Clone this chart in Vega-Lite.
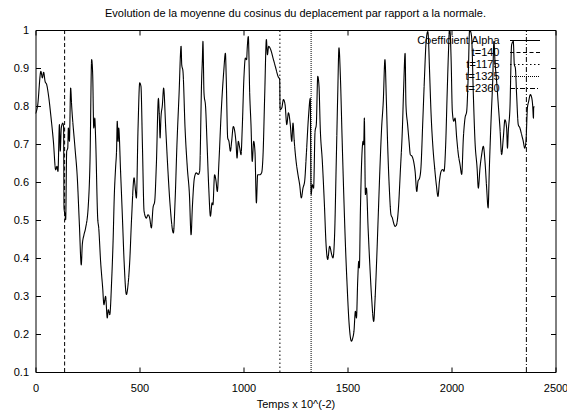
{
  "$schema": "https://vega.github.io/schema/vega-lite/v6.json",
  "width": 520,
  "height": 342,
  "autosize": {"type": "none"},
  "padding": {"left": 35.5, "top": 30, "right": 11.5, "bottom": 38},
  "background": "white",
  "title": {"text": "Evolution de la moyenne du cosinus du deplacement par rapport a la normale.", "fontSize": 11, "fontWeight": "normal", "font": "Liberation Sans", "color": "#000", "offset": 5, "anchor": "middle"},
  "config": {
    "view": {"stroke": "#000", "strokeWidth": 1},
    "axis": {"grid": false, "domain": false, "tickColor": "#000", "labelColor": "#000", "labelFont": "Liberation Sans", "labelFontSize": 11, "titleFont": "Liberation Sans", "titleFontSize": 11, "titleFontWeight": "normal", "titleColor": "#000", "tickSize": -5, "labelFlush": false, "labelOverlap": false},
    "legend": {"orient": "none", "legendX": 484, "legendY": 5, "padding": 0, "symbolType": "M-3,0H3", "symbolSize": 100, "symbolStrokeWidth": 1, "labelAlign": "right", "labelOffset": -31, "labelFont": "Liberation Sans", "labelFontSize": 11, "labelColor": "#000", "rowPadding": 0, "labelLimit": 300}
  },
  "datasets": {
    "alpha": [
      {"t":0,"v":0.78},{"t":10,"v":0.80},{"t":26,"v":0.891},{"t":33,"v":0.874},{"t":39,"v":0.889},{"t":46,"v":0.865},{"t":54,"v":0.856},{"t":62,"v":0.83},{"t":75,"v":0.768},{"t":86,"v":0.707},{"t":97,"v":0.632},{"t":103,"v":0.641},{"t":108,"v":0.628},{"t":115,"v":0.751},{"t":119,"v":0.681},{"t":124,"v":0.742},{"t":131,"v":0.755},{"t":135,"v":0.746},{"t":137,"v":0.532},{"t":142,"v":0.514},{"t":145,"v":0.501},{"t":150,"v":0.681},{"t":155,"v":0.689},{"t":158,"v":0.742},{"t":163,"v":0.707},{"t":169,"v":0.847},{"t":174,"v":0.799},{"t":190,"v":0.689},{"t":201,"v":0.611},{"t":211,"v":0.488},{"t":220,"v":0.382},{"t":225,"v":0.435},{"t":233,"v":0.461},{"t":241,"v":0.479},{"t":254,"v":0.54},{"t":262,"v":0.654},{"t":270,"v":0.922},{"t":275,"v":0.882},{"t":280,"v":0.742},{"t":285,"v":0.768},{"t":289,"v":0.716},{"t":299,"v":0.505},{"t":304,"v":0.479},{"t":313,"v":0.391},{"t":323,"v":0.321},{"t":329,"v":0.277},{"t":337,"v":0.299},{"t":345,"v":0.242},{"t":350,"v":0.264},{"t":357,"v":0.251},{"t":366,"v":0.339},{"t":373,"v":0.444},{"t":379,"v":0.567},{"t":385,"v":0.637},{"t":390,"v":0.689},{"t":393,"v":0.76},{"t":397,"v":0.707},{"t":400,"v":0.742},{"t":409,"v":0.628},{"t":418,"v":0.505},{"t":426,"v":0.391},{"t":437,"v":0.304},{"t":445,"v":0.33},{"t":453,"v":0.391},{"t":462,"v":0.505},{"t":474,"v":0.611},{"t":478,"v":0.593},{"t":485,"v":0.558},{"t":493,"v":0.742},{"t":501,"v":0.861},{"t":507,"v":0.852},{"t":514,"v":0.698},{"t":522,"v":0.523},{"t":533,"v":0.505},{"t":541,"v":0.514},{"t":549,"v":0.505},{"t":557,"v":0.479},{"t":565,"v":0.532},{"t":573,"v":0.549},{"t":581,"v":0.645},{"t":591,"v":0.82},{"t":595,"v":0.777},{"t":599,"v":0.716},{"t":603,"v":0.768},{"t":610,"v":0.803},{"t":616,"v":0.847},{"t":626,"v":0.742},{"t":636,"v":0.637},{"t":647,"v":0.54},{"t":663,"v":0.466},{"t":671,"v":0.549},{"t":680,"v":0.698},{"t":690,"v":0.829},{"t":700,"v":0.957},{"t":703,"v":0.909},{"t":709,"v":0.891},{"t":719,"v":0.742},{"t":730,"v":0.637},{"t":740,"v":0.567},{"t":748,"v":0.461},{"t":754,"v":0.532},{"t":764,"v":0.611},{"t":773,"v":0.624},{"t":783,"v":0.62},{"t":789,"v":0.628},{"t":799,"v":0.874},{"t":802,"v":0.918},{"t":805,"v":0.97},{"t":810,"v":0.835},{"t":818,"v":0.795},{"t":825,"v":0.698},{"t":833,"v":0.584},{"t":841,"v":0.51},{"t":849,"v":0.545},{"t":853,"v":0.54},{"t":861,"v":0.619},{"t":868,"v":0.602},{"t":874,"v":0.575},{"t":882,"v":0.654},{"t":893,"v":0.786},{"t":905,"v":0.891},{"t":913,"v":0.939},{"t":917,"v":0.874},{"t":924,"v":0.716},{"t":930,"v":0.707},{"t":937,"v":0.681},{"t":943,"v":0.707},{"t":951,"v":0.746},{"t":958,"v":0.733},{"t":964,"v":0.703},{"t":969,"v":0.663},{"t":975,"v":0.707},{"t":982,"v":0.689},{"t":988,"v":0.672},{"t":994,"v":0.742},{"t":1002,"v":0.874},{"t":1009,"v":0.926},{"t":1015,"v":0.922},{"t":1018,"v":0.953},{"t":1023,"v":0.983},{"t":1030,"v":0.83},{"t":1036,"v":0.751},{"t":1042,"v":0.654},{"t":1049,"v":0.707},{"t":1055,"v":0.681},{"t":1062,"v":0.545},{"t":1068,"v":0.619},{"t":1078,"v":0.619},{"t":1087,"v":0.624},{"t":1094,"v":0.672},{"t":1102,"v":0.83},{"t":1110,"v":0.975},{"t":1115,"v":0.935},{"t":1121,"v":0.957},{"t":1131,"v":0.948},{"t":1142,"v":0.926},{"t":1155,"v":0.9},{"t":1166,"v":0.878},{"t":1174,"v":0.87},{"t":1176,"v":0.79},{"t":1184,"v":0.795},{"t":1192,"v":0.817},{"t":1200,"v":0.803},{"t":1208,"v":0.751},{"t":1216,"v":0.782},{"t":1225,"v":0.751},{"t":1232,"v":0.707},{"t":1238,"v":0.755},{"t":1244,"v":0.707},{"t":1253,"v":0.654},{"t":1262,"v":0.619},{"t":1270,"v":0.593},{"t":1278,"v":0.558},{"t":1286,"v":0.584},{"t":1294,"v":0.602},{"t":1302,"v":0.672},{"t":1312,"v":0.768},{"t":1321,"v":0.82},{"t":1325,"v":0.567},{"t":1331,"v":0.593},{"t":1337,"v":0.584},{"t":1344,"v":0.733},{"t":1350,"v":0.751},{"t":1357,"v":0.878},{"t":1363,"v":0.852},{"t":1369,"v":0.742},{"t":1379,"v":0.654},{"t":1389,"v":0.54},{"t":1397,"v":0.435},{"t":1405,"v":0.396},{"t":1414,"v":0.431},{"t":1424,"v":0.409},{"t":1430,"v":0.4},{"t":1438,"v":0.461},{"t":1446,"v":0.654},{"t":1453,"v":0.83},{"t":1459,"v":0.953},{"t":1466,"v":0.874},{"t":1474,"v":0.716},{"t":1482,"v":0.567},{"t":1490,"v":0.435},{"t":1498,"v":0.33},{"t":1507,"v":0.233},{"t":1519,"v":0.181},{"t":1525,"v":0.189},{"t":1531,"v":0.207},{"t":1538,"v":0.26},{"t":1543,"v":0.242},{"t":1549,"v":0.339},{"t":1554,"v":0.391},{"t":1557,"v":0.374},{"t":1562,"v":0.523},{"t":1568,"v":0.654},{"t":1575,"v":0.707},{"t":1578,"v":0.698},{"t":1581,"v":0.768},{"t":1586,"v":0.567},{"t":1591,"v":0.584},{"t":1599,"v":0.479},{"t":1608,"v":0.374},{"t":1616,"v":0.295},{"t":1626,"v":0.233},{"t":1632,"v":0.286},{"t":1640,"v":0.391},{"t":1648,"v":0.514},{"t":1656,"v":0.637},{"t":1664,"v":0.742},{"t":1672,"v":0.812},{"t":1680,"v":0.922},{"t":1687,"v":0.812},{"t":1693,"v":0.698},{"t":1701,"v":0.584},{"t":1709,"v":0.514},{"t":1716,"v":0.505},{"t":1720,"v":0.496},{"t":1729,"v":0.483},{"t":1736,"v":0.488},{"t":1745,"v":0.532},{"t":1754,"v":0.628},{"t":1764,"v":0.742},{"t":1770,"v":0.847},{"t":1777,"v":0.939},{"t":1781,"v":0.803},{"t":1789,"v":0.751},{"t":1796,"v":0.707},{"t":1802,"v":0.672},{"t":1810,"v":0.668},{"t":1818,"v":0.654},{"t":1825,"v":0.628},{"t":1833,"v":0.575},{"t":1839,"v":0.602},{"t":1847,"v":0.611},{"t":1853,"v":0.637},{"t":1862,"v":0.76},{"t":1870,"v":0.874},{"t":1878,"v":0.97},{"t":1886,"v":0.996},{"t":1889,"v":0.979},{"t":1894,"v":0.9},{"t":1902,"v":0.777},{"t":1911,"v":0.689},{"t":1919,"v":0.637},{"t":1927,"v":0.593},{"t":1935,"v":0.562},{"t":1942,"v":0.602},{"t":1950,"v":0.628},{"t":1958,"v":0.633},{"t":1964,"v":0.628},{"t":1972,"v":0.698},{"t":1979,"v":0.83},{"t":1985,"v":0.935},{"t":1990,"v":1.0},{"t":1993,"v":0.996},{"t":1998,"v":0.926},{"t":2004,"v":0.786},{"t":2011,"v":0.76},{"t":2017,"v":0.768},{"t":2025,"v":0.716},{"t":2033,"v":0.672},{"t":2041,"v":0.646},{"t":2049,"v":0.62},{"t":2057,"v":0.716},{"t":2065,"v":0.768},{"t":2073,"v":0.786},{"t":2081,"v":0.891},{"t":2087,"v":1.0},{"t":2092,"v":0.996},{"t":2097,"v":0.979},{"t":2105,"v":0.83},{"t":2113,"v":0.707},{"t":2123,"v":0.637},{"t":2129,"v":0.584},{"t":2137,"v":0.637},{"t":2145,"v":0.672},{"t":2153,"v":0.694},{"t":2161,"v":0.654},{"t":2169,"v":0.584},{"t":2176,"v":0.532},{"t":2182,"v":0.637},{"t":2190,"v":0.76},{"t":2198,"v":0.865},{"t":2204,"v":0.97},{"t":2209,"v":0.918},{"t":2217,"v":0.865},{"t":2225,"v":0.803},{"t":2233,"v":0.742},{"t":2241,"v":0.672},{"t":2249,"v":0.716},{"t":2257,"v":0.764},{"t":2265,"v":0.742},{"t":2269,"v":0.689},{"t":2273,"v":0.733},{"t":2281,"v":0.795},{"t":2289,"v":0.961},{"t":2297,"v":0.97},{"t":2302,"v":0.909},{"t":2307,"v":0.9},{"t":2313,"v":0.83},{"t":2321,"v":0.751},{"t":2329,"v":0.742},{"t":2337,"v":0.725},{"t":2345,"v":0.707},{"t":2352,"v":0.689},{"t":2358,"v":0.707},{"t":2365,"v":0.795},{"t":2371,"v":0.812},{"t":2379,"v":0.83},{"t":2386,"v":0.821},{"t":2390,"v":0.803},{"t":2394,"v":0.768},{"t":2395,"v":0.795},{"t":2398,"v":0.799}
    ],
    "marks": [
      {"t": 140, "series": "t=140"},
      {"t": 1175, "series": "t=1175"},
      {"t": 1325, "series": "t=1325"},
      {"t": 2360, "series": "t=2360"}
    ]
  },
  "layer": [
    {
      "data": {"name": "alpha"},
      "mark": {"type": "line", "strokeWidth": 1.1, "clip": true, "interpolate": "monotone"},
      "encoding": {
        "x": {"field": "t", "type": "quantitative", "scale": {"domain": [0, 2500], "nice": false, "zero": false},
              "axis": {"orient": "bottom", "values": [0, 500, 1000, 1500, 2000, 2500], "format": "d", "title": "Temps x 10^(-2)", "labelPadding": 15, "titlePadding": 5}},
        "y": {"field": "v", "type": "quantitative", "scale": {"domain": [0.1, 1], "nice": false, "zero": false},
              "axis": {"orient": "left", "values": [0.1, 0.2, 0.3, 0.4, 0.5, 0.6, 0.7, 0.8, 0.9, 1], "format": ".1~f", "title": null, "labelPadding": 12}},
        "color": {"datum": "Coefficient Alpha", "type": "nominal", "title": null,
                  "scale": {"domain": ["Coefficient Alpha", "t=140", "t=1175", "t=1325", "t=2360"], "range": ["#000000", "#000000", "#000000", "#000000", "#000000"]}},
        "strokeDash": {"datum": "Coefficient Alpha", "type": "nominal", "title": null,
                  "scale": {"domain": ["Coefficient Alpha", "t=140", "t=1175", "t=1325", "t=2360"], "range": [[1, 0], [4, 2.5], [1.5, 2.5], [1, 1], [5, 2, 1, 2]]}}
      }
    },
    {
      "data": {"name": "marks"},
      "mark": {"type": "rule", "strokeWidth": 1},
      "encoding": {
        "x": {"field": "t", "type": "quantitative", "axis": {"orient": "top", "values": [0, 500, 1000, 1500, 2000, 2500], "labels": false, "title": null}},
        "y": {"datum": 0.1, "type": "quantitative", "axis": {"orient": "right", "values": [0.1, 0.2, 0.3, 0.4, 0.5, 0.6, 0.7, 0.8, 0.9, 1], "labels": false, "title": null}},
        "y2": {"datum": 1},
        "color": {"field": "series", "type": "nominal", "title": null},
        "strokeDash": {"field": "series", "type": "nominal", "title": null}
      }
    }
  ],
  "resolve": {"axis": {"x": "independent", "y": "independent"}}
}
